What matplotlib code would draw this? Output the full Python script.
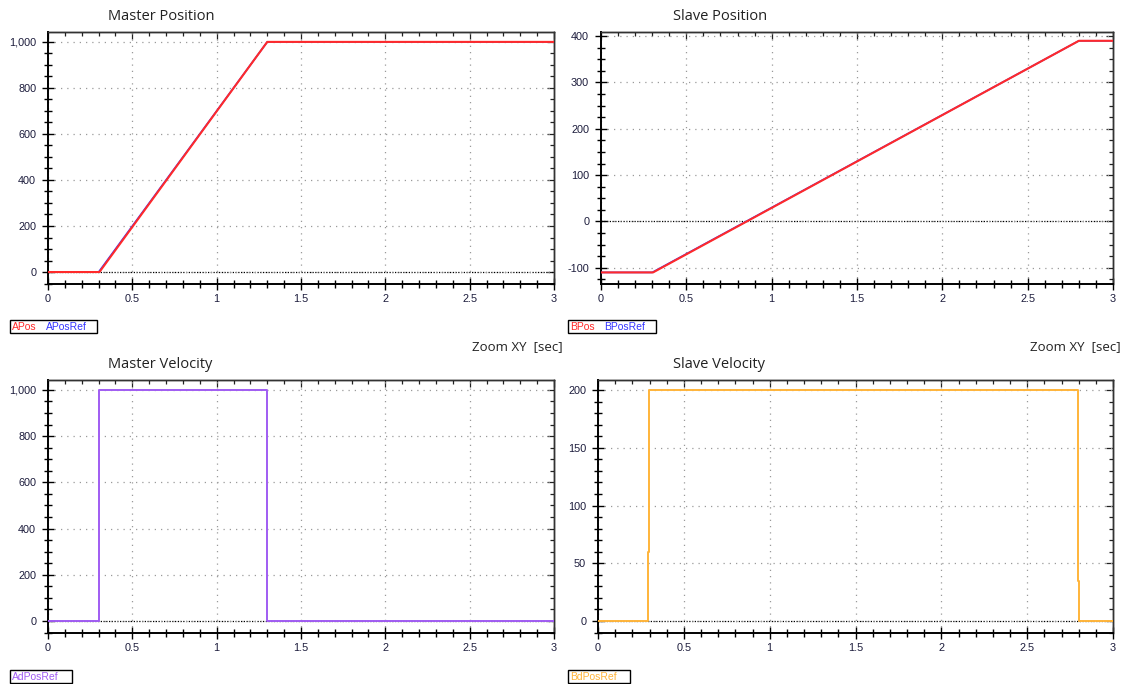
import matplotlib
matplotlib.use("Agg")
import matplotlib.pyplot as plt
from matplotlib.ticker import MultipleLocator, FuncFormatter, NullFormatter
from matplotlib.patches import Rectangle

# Master axis: position (actual + reference) and velocity reference
a_time = [0.0, 0.305, 1.30, 3.0]
a_pos = [0, 0, 1000, 1000]
a_ref_time = [0.0, 0.30, 1.30, 3.0]
a_pos_ref = [0, 0, 1000, 1000]
a_vel_time = [0.0, 0.30, 0.30, 1.30, 1.30, 3.0]
a_vel_ref = [0, 0, 1000, 1000, 0, 0]

# Slave axis
b_time = [0.0, 0.305, 2.80, 3.0]
b_pos = [-110, -110, 390, 390]
b_ref_time = [0.0, 0.30, 2.80, 3.0]
b_pos_ref = [-110, -110, 390, 390]
b_vel_time = [0.0, 0.290, 0.290, 0.297, 0.297, 2.797, 2.797, 2.803, 2.803, 3.0]
b_vel_ref = [0, 0, 60, 60, 200, 200, 35, 35, 0, 0]

W, H = 1123, 684
fig = plt.figure(figsize=(W / 100, H / 100), dpi=100)
fig.patch.set_facecolor("white")

TITLE_FONT = ["Open Sans", "DejaVu Sans"]
TICK_FONT = ["Liberation Sans", "DejaVu Sans"]
TICK_COLOR = "#1c1c3c"
RED = "#ff2a2a"
BLUE = "#3535ff"


def px_axes(x0, x1, ytop, ybot):
    return fig.add_axes([x0 / W, 1 - ybot / H, (x1 - x0) / W, (ybot - ytop) / H])


def set_locators(axis, major, minor):
    axis.set_major_locator(MultipleLocator(major))
    axis.set_minor_locator(MultipleLocator(minor))


def style(ax, ylim, ymajor, yminor, yfmt):
    ax.set_xlim(0, 3)
    ax.set_ylim(*ylim)
    set_locators(ax.xaxis, 0.5, 0.1)
    set_locators(ax.yaxis, ymajor, yminor)
    ax.xaxis.set_major_formatter(FuncFormatter(lambda v, p: f"{v:g}"))
    ax.yaxis.set_major_formatter(FuncFormatter(yfmt))
    ax.tick_params(which="both", direction="inout", color="black", width=1)
    ax.tick_params(which="major", length=9, labelsize=7.8, labelcolor=TICK_COLOR, pad=3)
    ax.tick_params(which="minor", length=6)
    ax.tick_params(axis="y", which="major", pad=4)
    for lab in ax.get_xticklabels() + ax.get_yticklabels():
        lab.set_family(TICK_FONT)

    # inward ticks along the top and right frame
    top = ax.secondary_xaxis("top")
    set_locators(top.xaxis, 0.5, 0.1)
    right = ax.secondary_yaxis("right")
    set_locators(right.yaxis, ymajor, yminor)
    for sec, axis in ((top, top.xaxis), (right, right.yaxis)):
        axis.set_major_formatter(NullFormatter())
        sec.tick_params(which="both", direction="in", color="#222222", width=0.9)
        sec.tick_params(which="major", length=5)
        sec.tick_params(which="minor", length=3)
    top.spines["top"].set_linewidth(1.0)
    right.spines["right"].set_linewidth(1.0)

    for side in ("left", "bottom"):
        ax.spines[side].set_linewidth(1.4)
    for side in ("top", "right"):
        ax.spines[side].set_linewidth(1.0)
        ax.spines[side].set_color("#333333")
    ax.grid(True, which="major", color="#9a9a9a", linestyle=(0, (1, 4)), linewidth=0.9)
    ax.axhline(0, color="black", linestyle=(0, (1, 1.2)), linewidth=0.9, zorder=1.5)


def legend_box(x0, y0, w, h, items):
    fig.add_artist(Rectangle((x0 / W, 1 - (y0 + h) / H), w / W, h / H,
                             transform=fig.transFigure, fc="white", ec="black", lw=1.0))
    for x, text, color in items:
        fig.text(x / W, 1 - (y0 + h / 2 + 0.5) / H, text, color=color, fontsize=7.5,
                 family=TICK_FONT, va="center", ha="left")


comma = lambda v, p: f"{v:,.0f}"

# Master Position
ax1 = px_axes(48, 554, 32, 284)
style(ax1, (-52, 1043), 200, 50, comma)
ax1.plot(a_ref_time, a_pos_ref, color=BLUE, lw=1.2, zorder=3)
ax1.plot(a_time, a_pos, color=RED, lw=1.5, zorder=4)

# Slave Position
ax2 = px_axes(601, 1113, 32, 284)
style(ax2, (-135, 409), 100, 25, comma)
ax2.plot(b_ref_time, b_pos_ref, color=BLUE, lw=1.2, zorder=3)
ax2.plot(b_time, b_pos, color=RED, lw=1.5, zorder=4)

# Master Velocity
ax3 = px_axes(48, 554, 380, 633)
style(ax3, (-52, 1043), 200, 50, comma)
ax3.plot(a_vel_time, a_vel_ref, color="#a05cf2", lw=1.4, zorder=3)

# Slave Velocity
ax4 = px_axes(598, 1113, 380, 633)
style(ax4, (-10.4, 208.7), 50, 10, comma)
ax4.plot(b_vel_time, b_vel_ref, color="#ffb43a", lw=1.4, zorder=3)

# titles
for x, y, t in [(108, 16, "Master Position"), (673, 16, "Slave Position"),
                (108, 365, "Master Velocity"), (673, 365, "Slave Velocity")]:
    fig.text(x / W, 1 - y / H, t, fontsize=10.5, family=TITLE_FONT, color="#222222",
             ha="left", va="center")

for x in (472, 1030):
    fig.text(x / W, 1 - 347 / H, "Zoom XY  [sec]", fontsize=9.5, family=TITLE_FONT,
             color="#222222", ha="left", va="center")

legend_box(10, 320, 87, 13, [(12, "APos", RED), (46, "APosRef", BLUE)])
legend_box(568, 320, 88, 13, [(570, "BPos", RED), (604, "BPosRef", BLUE)])
legend_box(10, 670, 62, 13, [(12, "AdPosRef", "#a05cf2")])
legend_box(568, 670, 62, 13, [(570, "BdPosRef", "#ffb43a")])

fig.savefig("out.png", dpi=100)
